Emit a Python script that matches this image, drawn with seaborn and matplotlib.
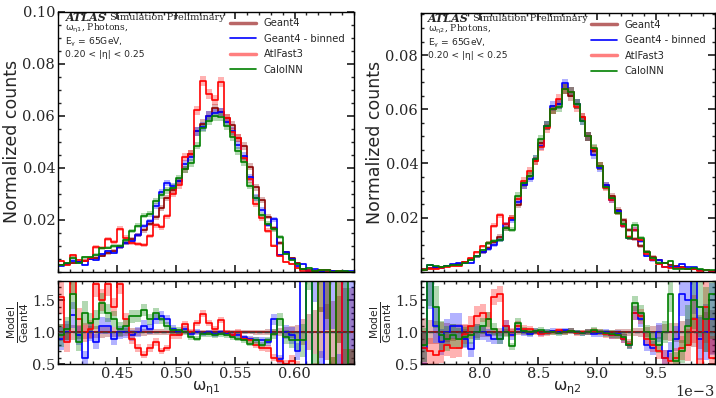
import numpy as np
import pandas as pd
import matplotlib
matplotlib.use("Agg")
import matplotlib.pyplot as plt
from matplotlib.ticker import AutoMinorLocator, MultipleLocator, FixedLocator
from matplotlib.lines import Line2D
import seaborn as sns

# Estilo
sns.set_theme(style="white")
plt.rcParams["font.family"] = ["DejaVu Serif"]
plt.rcParams["mathtext.fontset"] = "dejavusans"
plt.rcParams["mathtext.default"] = "rm"

# Datos: histogramas normalizados (Geant4) y cocientes modelo/Geant4
edges_l = np.linspace(0.40, 0.65, 51)
edges_r = np.linspace(7.5e-3, 10.0e-3, 51)
xticks_l = [0.45, 0.50, 0.55, 0.60]
xticks_r = [8.0e-3, 8.5e-3, 9.0e-3, 9.5e-3]

g4_l = [0.0027, 0.0032, 0.0034, 0.0038, 0.0043, 0.0049, 0.0055, 0.0062, 0.0072, 0.0082,
        0.0095, 0.0110, 0.0125, 0.0142, 0.0160, 0.0185, 0.0210, 0.0245, 0.0285, 0.0315,
        0.0350, 0.0395, 0.0455, 0.0540, 0.0570, 0.0600, 0.0630, 0.0615, 0.0590, 0.0565,
        0.0515, 0.0485, 0.0405, 0.0325, 0.0275, 0.0212, 0.0168, 0.0112, 0.0075, 0.0052,
        0.0034, 0.0012, 0.0006, 0.0004, 0.0003, 0.00025, 0.0002, 0.00015, 0.0001, 0.0001]
binned_l = [0.90, 1.00, 1.27, 0.95, 0.60, 1.00, 0.85, 1.10, 1.10, 0.90,
            1.00, 1.00, 0.95, 1.00, 1.10, 1.05, 1.20, 1.25, 1.20, 1.05,
            1.00, 1.05, 0.97, 1.00, 0.98, 1.00, 0.97, 1.00, 0.98, 0.96,
            0.95, 0.92, 0.90, 0.88, 0.87, 0.85, 1.20, 0.58, 1.00, 0.95,
            0.70, 2.50, 0.30, 2.50, 0.40, 2.20, 2.50, 0.30, 2.50, 2.50]
afii_l = [1.55, 0.85, 1.85, 1.20, 1.00, 1.05, 1.75, 1.50, 1.75, 1.40,
          1.75, 1.20, 0.90, 0.75, 0.65, 0.75, 0.85, 0.70, 0.75, 0.95,
          0.95, 1.12, 1.00, 1.15, 1.29, 1.14, 1.05, 1.19, 1.00, 0.95,
          1.00, 0.90, 0.88, 0.80, 0.75, 0.75, 0.60, 0.55, 0.50, 0.55,
          0.45, 0.30, 0.30, 0.30, 2.50, 2.50, 0.30, 2.50, 0.30, 0.30]
inn_l = [0.95, 1.05, 1.60, 0.85, 1.30, 1.15, 1.20, 1.45, 1.30, 1.20,
         1.05, 1.10, 1.25, 1.25, 1.35, 1.20, 1.30, 1.20, 1.10, 1.03,
         1.03, 1.00, 0.92, 0.90, 0.97, 0.97, 0.95, 0.97, 0.95, 0.92,
         0.90, 0.87, 0.82, 0.87, 0.80, 0.87, 0.97, 1.20, 0.92, 0.87,
         0.87, 0.87, 2.50, 0.40, 2.50, 2.50, 0.30, 2.50, 2.50, 0.30]

g4_r = [0.0010, 0.0013, 0.0015, 0.0018, 0.0022, 0.0027, 0.0030, 0.0036, 0.0046, 0.0058,
        0.0072, 0.0088, 0.0110, 0.0130, 0.0160, 0.0200, 0.0245, 0.0320, 0.0355, 0.0410,
        0.0475, 0.0540, 0.0600, 0.0620, 0.0675, 0.0650, 0.0620, 0.0570, 0.0500, 0.0445,
        0.0390, 0.0320, 0.0280, 0.0230, 0.0190, 0.0155, 0.0120, 0.0095, 0.0075, 0.0056,
        0.0043, 0.0032, 0.0025, 0.0021, 0.0017, 0.0011, 0.0009, 0.0007, 0.0005, 0.0004]
binned_r = [0.75, 1.80, 1.10, 0.85, 1.00, 1.10, 1.10, 0.90, 0.73, 1.00,
            1.00, 0.95, 0.90, 0.90, 1.10, 0.95, 1.05, 1.00, 0.97, 1.02,
            0.98, 1.00, 1.02, 1.00, 1.03, 1.02, 1.00, 0.98, 1.00, 0.97,
            0.98, 1.00, 0.95, 0.97, 0.90, 0.80, 1.30, 1.20, 0.80, 0.75,
            1.00, 0.60, 0.70, 0.90, 1.60, 1.50, 1.80, 0.90, 1.00, 1.20]
afii_r = [0.75, 0.70, 0.65, 0.70, 0.80, 0.75, 0.75, 0.97, 1.10, 1.25,
          1.30, 1.20, 1.55, 1.60, 1.10, 1.00, 1.10, 1.05, 1.05, 1.00,
          0.97, 0.98, 1.00, 1.03, 1.00, 1.02, 0.98, 1.00, 1.00, 1.02,
          1.00, 0.97, 0.95, 0.95, 0.90, 0.82, 1.30, 1.25, 0.90, 0.80,
          0.70, 0.60, 0.55, 0.60, 0.75, 0.80, 1.20, 0.40, 1.40, 0.60]
inn_r = [0.80, 1.85, 1.40, 0.95, 0.90, 0.95, 0.90, 0.92, 0.95, 1.00,
         1.10, 1.20, 1.05, 0.90, 1.00, 0.78, 1.15, 1.02, 1.00, 1.02,
         1.03, 1.00, 1.00, 0.98, 1.00, 1.02, 1.00, 0.98, 1.00, 1.03,
         1.00, 0.98, 0.97, 0.95, 0.93, 0.80, 1.45, 1.30, 1.00, 0.90,
         0.80, 1.00, 1.60, 0.55, 0.70, 1.10, 1.50, 1.40, 1.20, 1.60]

labels = ["Geant4", "Geant4 - binned", "AtlFast3", "CaloINN"]
colors = ["darkred", "blue", "red", "green"]
stat_k = 4.8e-5  # escala de la incertidumbre estadistica (normalizada)

sans = "DejaVu Sans"
serif = "DejaVu Serif"


def step_band(ax, edges, lo, hi, color):
    ax.fill_between(edges, np.append(lo, lo[-1]), np.append(hi, hi[-1]),
                    step="post", color=color, alpha=0.3, lw=0)


def step_line(ax, edges, vals, color):
    centers = 0.5 * (edges[1:] + edges[:-1])
    df = pd.DataFrame({"x": centers, "w": np.asarray(vals, dtype=float)})
    sns.histplot(data=df, x="x", weights="w", bins=list(edges), element="step",
                 fill=False, color=color, lw=1.2, ax=ax)


def panel(ax, rax, edges, g4, ratios, xlabel, top, yticks, xticks, sci):
    g4 = np.array(g4)
    series = [g4] + [g4 * np.array(r) for r in ratios]
    for vals, c in zip(series, colors):
        err = np.sqrt(vals * stat_k)
        step_band(ax, edges, vals - err, vals + err, c)
        step_line(ax, edges, vals, c)
    # cocientes
    rel_g4 = np.sqrt(stat_k / g4)
    step_band(rax, edges, 1 - rel_g4, 1 + rel_g4, colors[0])
    step_line(rax, edges, np.ones_like(g4), colors[0])
    for r, vals, c in zip(ratios, series[1:], colors[1:]):
        r = np.array(r)
        rel = np.sqrt(stat_k / vals + rel_g4 ** 2)
        step_band(rax, edges, r * (1 - rel), r * (1 + rel), c)
        step_line(rax, edges, r, c)
    rax.axhline(1.0, color="0.25", ls="--", lw=1.0, zorder=5)

    for a in (ax, rax):
        a.set_xlim(edges[0], edges[-1])
        a.xaxis.set_major_locator(FixedLocator(xticks))
        a.xaxis.set_minor_locator(MultipleLocator((edges[-1] - edges[0]) / 25))
        a.tick_params(which="both", direction="in", top=True, right=True,
                      bottom=True, left=True, labelsize=10.5, pad=2,
                      labelfontfamily=serif)
        a.tick_params(which="major", length=5)
        a.tick_params(which="minor", length=2.5)
        for s in a.spines.values():
            s.set_color("black")
            s.set_linewidth(1.0)
    ax.set_ylim(0, top)
    ax.yaxis.set_major_locator(FixedLocator(yticks))
    ax.yaxis.set_minor_locator(MultipleLocator(0.005))
    ax.tick_params(labelbottom=False)
    ax.set_ylabel("Normalized counts", family=sans, fontsize=12.5, labelpad=1)
    ax.set_xlabel("")
    rax.set_ylim(0.5, 1.8)
    rax.yaxis.set_major_locator(MultipleLocator(0.5))
    rax.yaxis.set_minor_locator(AutoMinorLocator(5))
    rax.set_ylabel(r"$\frac{\mathrm{Model}}{\mathrm{Geant4}}$", fontsize=11,
                   labelpad=1)
    rax.set_xlabel(xlabel, fontsize=11.5, labelpad=-1)
    if sci:
        rax.ticklabel_format(axis="x", style="sci", scilimits=(-3, -3))
        rax.xaxis.get_offset_text().set_fontsize(10.5)
        rax.xaxis.get_offset_text().set_family(serif)

    # textos
    t = ax.text(0.025, 0.978, "ATLAS", transform=ax.transAxes, fontsize=8,
                fontweight="bold", fontstyle="italic", va="center")
    ax.annotate("Simulation Preliminary", xy=(1, 0.5), xycoords=t,
                xytext=(2.5, 0), textcoords="offset points", fontsize=7,
                va="center")
    ax.text(0.025, 0.936, xlabel + ", Photons,", transform=ax.transAxes,
            fontsize=6.6, va="center")
    ax.text(0.025, 0.884, r"$E_{\gamma}$ = 65GeV,", transform=ax.transAxes,
            fontsize=6.6, va="center", family=sans)
    ax.text(0.025, 0.836, "0.20 < |η| < 0.25", transform=ax.transAxes,
            fontsize=6.6, va="center", family=sans)
    handles = [Line2D([], [], color="darkred", alpha=0.6, lw=2.5),
               Line2D([], [], color="blue", lw=1.2),
               Line2D([], [], color="red", alpha=0.5, lw=2.5),
               Line2D([], [], color="green", lw=1.2)]
    ax.legend(handles, labels, loc="upper right", bbox_to_anchor=(1.0, 1.01),
              frameon=False, prop={"family": sans, "size": 7.2},
              handlelength=2.6, labelspacing=0.55, handletextpad=0.8)


fig = plt.figure(figsize=(7.16, 3.98), dpi=100)
ax1 = fig.add_axes([0.081, 0.317, 0.413, 0.653])
rax1 = fig.add_axes([0.081, 0.085, 0.413, 0.209])
ax2 = fig.add_axes([0.588, 0.317, 0.410, 0.650])
rax2 = fig.add_axes([0.588, 0.085, 0.410, 0.209])

panel(ax1, rax1, edges_l, g4_l, [binned_l, afii_l, inn_l],
      r"$\omega_{\eta1}$", 0.100, [0.02, 0.04, 0.06, 0.08, 0.10], xticks_l, False)
panel(ax2, rax2, edges_r, g4_r, [binned_r, afii_r, inn_r],
      r"$\omega_{\eta2}$", 0.0955, [0.02, 0.04, 0.06, 0.08], xticks_r, True)

fig.savefig("out.png", dpi=100)
